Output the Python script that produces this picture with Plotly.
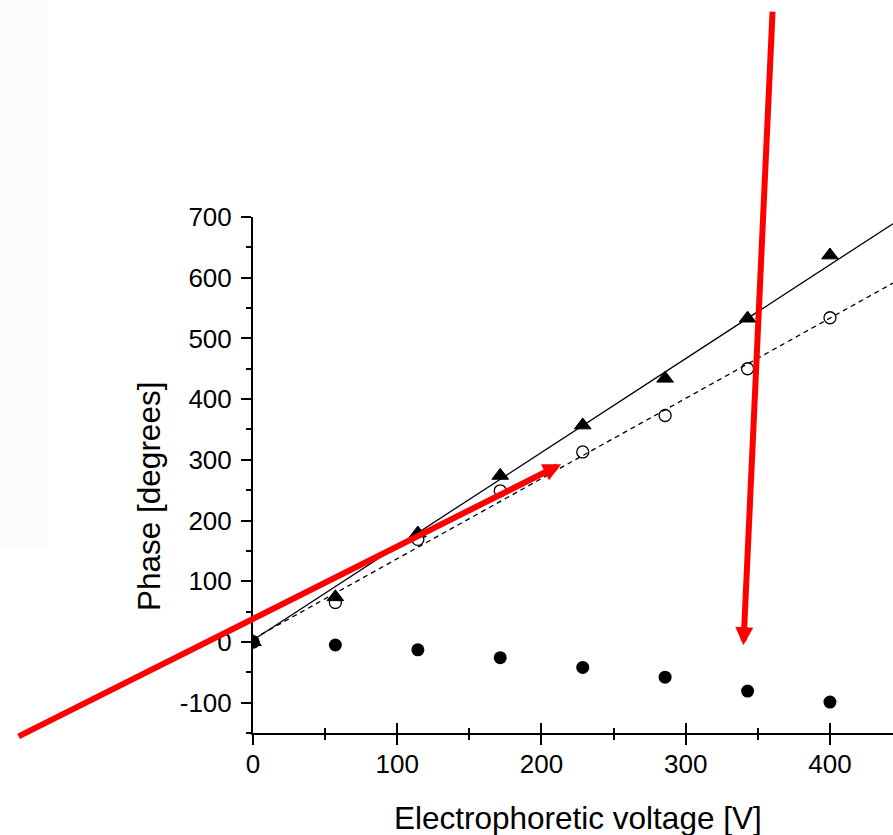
import plotly.graph_objects as go

# ---- data ----
voltage = [0, 57.1, 114.3, 171.4, 228.6, 285.7, 342.9, 400]
phase_triangle = [0, 74, 179, 274, 357, 434, 533, 637]
phase_open = [0, 65, 169, 249, 313, 373, 450, 534]
phase_filled = [0, -5, -13, -26, -42, -58, -81, -99]

# linear fit lines (intercept, slope)
fit_triangle = (3.0, 1.546)
fit_open = (5.0, 1.321)

x_range = [0, 443.7]
y_range = [-150, 700]
x_tickvals = [0, 100, 200, 300, 400]
x_ticktext = ["0", "100", "200", "300", "400"]
y_tickvals = [-100, 0, 100, 200, 300, 400, 500, 600, 700]
y_ticktext = ["-100", "0", "100", "200", "300", "400", "500", "600", "700"]

x_title = "Electrophoretic voltage [V]"
y_title = "Phase [degrees]"

FONT = "Liberation Sans, Arial, sans-serif"

fig = go.Figure()

fig.add_trace(go.Scatter(
    x=x_range, y=[fit_triangle[0] + fit_triangle[1] * v for v in x_range],
    mode="lines", line=dict(color="black", width=1.3), showlegend=False))
fig.add_trace(go.Scatter(
    x=x_range, y=[fit_open[0] + fit_open[1] * v for v in x_range],
    mode="lines", line=dict(color="black", width=1.3, dash="5px,4px"), showlegend=False))

fig.add_trace(go.Scatter(
    x=voltage, y=phase_open, mode="markers",
    marker=dict(symbol="circle-open", size=12, color="black", line=dict(width=1.3)),
    showlegend=False))
fig.add_trace(go.Scatter(
    x=voltage, y=phase_triangle, mode="markers",
    marker=dict(symbol="triangle-up", size=14.5, color="black", line=dict(width=1, color="black")),
    showlegend=False))
fig.add_trace(go.Scatter(
    x=voltage, y=phase_filled, mode="markers",
    marker=dict(symbol="circle", size=13, color="black"),
    showlegend=False))

# invisible trace on the overlaid axis used for inward ticks
fig.add_trace(go.Scatter(x=x_range, y=[None, None], xaxis="x2", yaxis="y",
                         mode="lines", showlegend=False, hoverinfo="skip"))

fig.update_layout(
    width=893, height=835,
    margin=dict(l=253, r=0, t=217, b=102),
    paper_bgcolor="white", plot_bgcolor="white",
    font=dict(family=FONT, color="black"),
    xaxis=dict(range=x_range, showgrid=False, zeroline=False,
               showline=True, linecolor="black", linewidth=2,
               ticks="outside", ticklen=10, tickwidth=2, tickcolor="black",
               tickmode="array", tickvals=x_tickvals, ticktext=x_ticktext,
               tickfont=dict(size=26, family=FONT, color="black"),
               ticklabelstandoff=-3,
               minor=dict(ticks="outside", dtick=50, tick0=0, ticklen=5,
                          tickwidth=2, tickcolor="black", showgrid=False)),
    xaxis2=dict(range=x_range, overlaying="x", anchor="y", side="bottom",
                showgrid=False, zeroline=False, showline=False,
                showticklabels=False,
                ticks="inside", ticklen=10, tickwidth=2, tickcolor="black",
                tickmode="array", tickvals=x_tickvals,
                minor=dict(ticks="inside", dtick=50, tick0=0, ticklen=5,
                           tickwidth=2, tickcolor="black", showgrid=False)),
    yaxis=dict(range=y_range, showgrid=False, zeroline=False,
               showline=True, linecolor="black", linewidth=2,
               ticks="outside", ticklen=10, tickwidth=2, tickcolor="black",
               tickmode="array", tickvals=y_tickvals, ticktext=y_ticktext,
               tickfont=dict(size=26, family=FONT, color="black"),
               ticklabelstandoff=4,
               minor=dict(ticks="outside", dtick=50, tick0=0, ticklen=5,
                          tickwidth=2, tickcolor="black", showgrid=False)),
    shapes=[dict(type="rect", xref="paper", yref="paper", layer="below",
                 x0=(0 - 253) / 640, x1=(47.7 - 253) / 640,
                 y0=(733 - 545.7) / 516, y1=733 / 516,
                 fillcolor="#fbfbfb", line=dict(width=0))],
    annotations=[
        dict(text=x_title, xref="paper", yref="paper",
             x=(577.5 - 253) / 640, y=(733 - 818) / 516,
             xanchor="center", yanchor="middle", showarrow=False,
             font=dict(size=31.5, family=FONT, color="black")),
        dict(text=y_title, xref="paper", yref="paper",
             x=(149 - 253) / 640, y=(733 - 497) / 516, textangle=-90,
             xanchor="center", yanchor="middle", showarrow=False,
             font=dict(size=31.5, family=FONT, color="black")),
        dict(text="", x=213.6, y=292.8, xref="x", yref="y",
             ax=-544, ay=273, axref="pixel", ayref="pixel",
             showarrow=True, arrowhead=2, arrowsize=0.6, arrowwidth=6,
             arrowcolor="#ff0000", standoff=0),
        dict(text="", x=340.0, y=-5.4, xref="x", yref="y",
             ax=29.2, ay=-635, axref="pixel", ayref="pixel",
             showarrow=True, arrowhead=2, arrowsize=0.6, arrowwidth=6,
             arrowcolor="#ff0000", standoff=0),
    ],
)

fig.write_html("out.html")
